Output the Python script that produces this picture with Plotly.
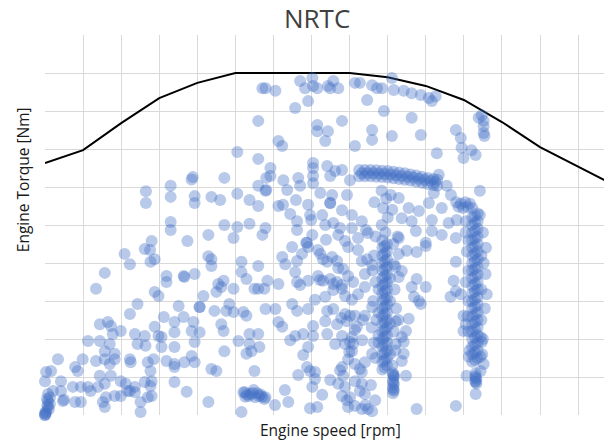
import plotly.graph_objects as go

# Full-load torque curve
curve_speed = [800, 900, 1000, 1100, 1200, 1300, 1400, 1500, 1600,
               1700, 1800, 1900, 2000, 2100, 2200, 2300]
curve_torque = [663, 697, 768, 834, 874, 900, 900, 900, 900,
                889, 866, 829, 771, 705, 653, 602]

# NRTC operating points (speed rpm, torque Nm)
points_low = [
    (957, 374), (934, 332), (1009, 424), (1023, 397), (1062, 437), (1043, 292), (1023, 266),
    (965, 245), (973, 234), (944, 239), (978, 213), (999, 221), (1036, 213), (1062, 208),
    (913, 195), (944, 195), (970, 187), (1043, 187), (1064, 182), (957, 168), (983, 161),
    (957, 147), (934, 142), (970, 134), (983, 147), (1023, 147), (1025, 139), (834, 147),
    (899, 147), (879, 126), (886, 116), (816, 116), (803, 113), (800, 89), (842, 89),
    (894, 74), (913, 74), (920, 63), (939, 74), (957, 82), (973, 103), (944, 103),
    (999, 89), (1012, 82), (1036, 74), (1062, 87), (1077, 116), (1070, 139), (1023, 63),
    (873, 74), (842, 63), (847, 37), (850, 40), (879, 34), (894, 34), (952, 34), (960, 47),
    (983, 50), (957, 21), (999, 50), (1017, 63), (1036, 60), (1051, 34), (1051, 8),
    (1070, 47), (1077, 76), (1077, 403),
]

idle_low = [
    (808, 55), (813, 47), (808, 37), (813, 29), (808, 21), (803, 10), (800, 0), (800, 0),
    (802, 3), (805, 42), (810, 15), (795, 74), (821, 63), (790, 37), (800, 5), (806, 26),
]

points_mid = [
    (1065, 589), (1065, 558), (1076, 434),
    (1371, 860), (1360, 774), (1305, 692), (1360, 674), (1185, 620), (1188, 626),
    (1271, 624), (1381, 624), (1130, 603), (1130, 574), (1193, 576), (1193, 558),
    (1237, 574), (1260, 566), (1305, 582), (1337, 566), (1360, 550), (1360, 603),
    (1381, 592), (1130, 508), (1130, 487), (1229, 474), (1271, 500), (1305, 495),
    (1337, 503), (1295, 466), (1371, 474), (1174, 458), (1080, 458),
    (1229, 418), (1237, 410), (1237, 392), (1316, 403), (1360, 392), (1088, 410),
    (1119, 366), (1119, 350), (1164, 366), (1166, 363), (1193, 371), (1255, 345),
    (1263, 337), (1269, 353), (1250, 324), (1295, 332), (1316, 376), (1329, 358),
    (1350, 332), (1360, 332), (1376, 332), (1088, 324), (1098, 313), (1216, 313),
    (1151, 287), (1206, 284), (1206, 284), (1245, 274), (1276, 274), (1284, 292),
    (1295, 271), (1321, 271), (1329, 261), (1112, 258), (1140, 245), (1164, 258),
    (1190, 245), (1263, 239), (1269, 221), (1185, 221), (1206, 218), (1140, 218),
    (1088, 232), (1098, 208), (1106, 205), (1193, 192), (1308, 195), (1337, 213),
    (1360, 213), (1337, 187), (1342, 168), (1363, 179), (1106, 179), (1140, 179),
    (1271, 168), (1329, 161), (1085, 147), (1119, 142), (1140, 134), (1140, 126),
    (1166, 139), (1185, 155), (1193, 139), (1237, 121), (1250, 116), (1350, 116),
    (1080, 89), (1140, 87), (1172, 61), (1080, 50), (1229, 34), (1316, 8),
]

idle_mid = [
    (1325, 60), (1335, 50), (1345, 58), (1352, 47), (1362, 50), (1370, 48),
    (1348, 66), (1326, 48), (1340, 55), (1358, 57), (1376, 42), (1321, 60),
    (1330, 54), (1366, 54),
]

points_high = [
    (1470, 879), (1502, 887), (1504, 866), (1483, 860), (1515, 860), (1543, 866),
    (1557, 879), (1549, 860), (1570, 860), (1614, 874), (1627, 874), (1659, 868),
    (1672, 860), (1405, 853), (1379, 860), (1491, 826), (1646, 829), (1457, 808),
    (1580, 774), (1515, 763), (1515, 747), (1543, 747), (1536, 721), (1659, 750),
    (1659, 724), (1413, 721), (1423, 708), (1614, 708),
    (1504, 663), (1504, 650), (1541, 655), (1562, 642), (1580, 645), (1601, 618),
    (1549, 629), (1392, 650), (1392, 629), (1426, 618), (1465, 624), (1504, 629),
    (1504, 610), (1379, 590), (1436, 592), (1470, 603), (1523, 584), (1549, 558),
    (1549, 558), (1554, 579), (1580, 539), (1593, 579), (1528, 526), (1491, 553),
    (1496, 526), (1413, 550), (1462, 510), (1557, 505), (1502, 474), (1570, 474),
    (1606, 492), (1632, 510), (1536, 500), (1379, 492), (1488, 453), (1588, 458),
    (1622, 466), (1648, 479),
    (1685, 860), (1716, 855), (1742, 853), (1763, 847), (1787, 842), (1808, 834),
    (1816, 826), (1826, 839), (1711, 887), (1690, 800), (1763, 782), (1711, 734),
    (1787, 737), (1879, 750), (1892, 729), (1829, 689), (1894, 703), (1920, 697),
    (1931, 684), (1899, 676), (1947, 789), (1952, 774), (1952, 760), (1952, 742),
    (1954, 734), (1939, 782),
    (1834, 632), (1855, 603), (1821, 584), (1866, 579), (1942, 590), (1942, 526),
    (1842, 545), (1816, 513), (1860, 505), (1881, 513), (1808, 558), (1782, 537),
    (1755, 545), (1763, 510), (1729, 571), (1708, 579), (1774, 484), (1816, 484),
    (1842, 474), (1879, 466), (1800, 453), (1729, 466), (1737, 518),
    (1449, 442), (1423, 416), (1431, 397), (1462, 405), (1475, 424), (1491, 442),
    (1523, 424), (1530, 410), (1554, 416), (1567, 405), (1596, 442), (1632, 405),
    (1646, 410), (1384, 353), (1413, 345), (1457, 376), (1462, 350), (1491, 353),
    (1517, 366), (1530, 353), (1549, 358), (1557, 345), (1567, 350), (1583, 384),
    (1596, 366), (1609, 350), (1640, 371), (1640, 337), (1536, 311), (1580, 332),
    (1588, 313), (1622, 318), (1379, 279), (1405, 279), (1449, 292), (1462, 274),
    (1491, 279), (1536, 247), (1557, 279), (1567, 239), (1588, 266), (1601, 261),
    (1614, 261), (1593, 247), (1619, 232), (1640, 261), (1659, 284), (1413, 245),
    (1423, 232), (1457, 208), (1478, 213), (1504, 234), (1504, 208), (1491, 179),
    (1541, 213), (1580, 208), (1606, 205), (1601, 192), (1609, 187), (1606, 168),
    (1588, 187), (1562, 187), (1659, 161), (1596, 147), (1614, 134), (1627, 121),
    (1632, 113), (1640, 139), (1488, 126), (1496, 116), (1509, 113), (1509, 95),
    (1502, 74), (1580, 126), (1583, 103), (1570, 82), (1588, 74), (1614, 89),
    (1632, 82), (1627, 63), (1640, 55), (1580, 50), (1601, 47), (1614, 24),
    (1596, 21), (1632, 16), (1648, 16), (1659, 10), (1515, 21), (1439, 34), (1379, 47),
    (1729, 424), (1750, 432), (1776, 429), (1800, 445), (1716, 397), (1737, 379),
    (1729, 363), (1776, 358), (1763, 337), (1800, 337), (1769, 311), (1782, 300),
    (1787, 292), (1879, 403), (1873, 353), (1879, 326), (1892, 318), (1865, 311),
    (1957, 371), (1960, 318), (1899, 261), (1905, 239), (1899, 221), (1755, 253),
    (1748, 221), (1737, 205), (1742, 192), (1721, 247), (1721, 187), (1742, 161),
    (1737, 142), (1748, 103), (1716, 103), (1944, 153), (1952, 134), (1913, 153),
    (1907, 103), (1944, 116), (1931, 55), (1776, 16), (1879, 24), (1944, 205), (1947, 192),
    (1425, 553), (1444, 529), (1462, 487), (1486, 453), (1517, 434), (1541, 403),
    (1570, 387), (1470, 342), (1509, 303), (1541, 274), (1578, 255), (1614, 224),
    (1633, 197), (1599, 166), (1575, 118), (1549, 92), (1528, 53), (1593, 39),
    (1641, 26), (1667, 39), (1656, 79), (1635, 250), (1606, 303), (1580, 342),
    (1557, 329), (1522, 355), (1444, 197), (1478, 158), (1465, 105), (1430, 66),
    (1404, 26), (1496, 18), (1622, 434), (1659, 395), (1643, 487), (1606, 526),
    (1575, 492), (1538, 461), (1499, 513), (1459, 566),
]

# Steady high-load band just under rated torque
band = [
    (1625, 645), (1640, 645), (1655, 645), (1670, 644), (1685, 643), (1700, 642),
    (1715, 640), (1730, 638), (1745, 636), (1760, 633), (1775, 630), (1790, 627),
    (1805, 624), (1820, 621), (1830, 619),
    (1632, 636), (1647, 636), (1662, 636), (1677, 635), (1692, 634), (1707, 633),
    (1722, 631), (1737, 629), (1752, 627), (1767, 625), (1782, 622), (1797, 619),
    (1812, 616), (1825, 613),
    (1625, 628), (1640, 628), (1655, 628), (1670, 627), (1685, 626), (1700, 625),
    (1715, 623), (1730, 621), (1745, 619), (1760, 617), (1775, 614), (1790, 611),
    (1805, 608), (1820, 605), (1830, 603),
]

# Constant-speed column around 1690 rpm
column_1690 = [
    (1686, 120), (1698, 130), (1686, 140), (1698, 150), (1686, 160), (1698, 170),
    (1686, 180), (1698, 190), (1686, 200), (1698, 210), (1686, 220), (1698, 230),
    (1686, 240), (1698, 250), (1686, 260), (1698, 270), (1686, 280), (1698, 290),
    (1686, 300), (1698, 310), (1686, 320), (1698, 330), (1686, 340), (1698, 350),
    (1686, 360), (1698, 370), (1686, 380), (1698, 390), (1686, 400), (1698, 410),
    (1686, 420), (1698, 430), (1686, 440), (1698, 450), (1686, 460), (1694, 480),
    (1684, 500), (1700, 520), (1688, 545), (1696, 570), (1684, 590),
    (1692, 125), (1692, 145), (1692, 165), (1692, 185), (1692, 205), (1692, 225),
    (1692, 245), (1692, 265), (1692, 285), (1692, 305), (1692, 325), (1692, 345),
    (1692, 365), (1692, 385), (1692, 405), (1692, 425), (1692, 445),
    (1676, 210), (1706, 240), (1676, 270), (1706, 300), (1676, 330), (1706, 360),
    (1676, 190), (1706, 160),
    (1665, 560), (1712, 540), (1668, 470), (1715, 450), (1664, 420), (1720, 390),
    (1668, 350), (1718, 330), (1662, 300), (1722, 280), (1670, 250), (1716, 220),
    (1664, 190), (1720, 170), (1668, 150), (1712, 130), (1726, 470), (1660, 380),
    (1728, 250), (1658, 230),
    (1714, 110), (1716, 100), (1714, 90), (1716, 80), (1714, 72), (1716, 64), (1714, 57),
    (1715, 105), (1715, 85), (1715, 68),
]

# Constant-speed column around 1930 rpm
column_1930 = [
    (1922, 140), (1936, 150), (1922, 160), (1936, 170), (1922, 180), (1936, 190),
    (1922, 200), (1936, 210), (1922, 220), (1936, 230), (1922, 240), (1936, 250),
    (1922, 260), (1936, 270), (1922, 280), (1936, 290), (1922, 300), (1936, 310),
    (1922, 320), (1936, 330), (1922, 340), (1936, 350), (1922, 360), (1936, 370),
    (1922, 380), (1936, 390), (1922, 400), (1936, 410), (1922, 420), (1936, 430),
    (1922, 440), (1936, 450), (1922, 460), (1936, 470), (1922, 480), (1936, 490),
    (1922, 500), (1936, 510), (1922, 520), (1936, 530), (1922, 545),
    (1929, 145), (1929, 165), (1929, 185), (1929, 205), (1929, 225), (1929, 245),
    (1929, 265), (1929, 285), (1929, 305), (1929, 325), (1929, 345), (1929, 365),
    (1929, 385), (1929, 405), (1929, 425), (1929, 445), (1929, 465), (1929, 485),
    (1929, 505), (1929, 525),
    (1912, 300), (1946, 330), (1912, 380), (1946, 420), (1912, 460), (1946, 250),
    (1912, 220),
    (1905, 510), (1950, 480), (1908, 430), (1952, 400), (1905, 350), (1955, 280),
    (1910, 260), (1950, 200), (1915, 170), (1948, 160), (1905, 480), (1958, 440),
    (1930, 102), (1933, 95), (1930, 89), (1933, 83), (1931, 110), (1931, 98), (1931, 87),
    (1880, 560), (1892, 556), (1904, 560), (1916, 556), (1886, 548), (1898, 545), (1910, 548),
]

groups = [points_low, idle_low, points_mid, idle_mid, points_high, band, column_1690, column_1930]
all_points = [p for g in groups for p in g]
speed = [p[0] for p in all_points]
torque = [p[1] for p in all_points]

fig = go.Figure()

fig.add_trace(go.Scatter(
    x=curve_speed, y=curve_torque, mode="lines",
    line=dict(color="#000000", width=2),
    hoverinfo="skip", showlegend=False,
))

fig.add_trace(go.Scatter(
    x=speed, y=torque, mode="markers",
    marker=dict(size=12, color="rgba(68,114,196,0.38)", line=dict(width=0)),
    cliponaxis=False, showlegend=False,
))

fig.update_xaxes(
    range=[800, 2268], tick0=800, dtick=100,
    showgrid=True, gridcolor="#d9d9d9", gridwidth=1,
    showticklabels=False, ticks="", zeroline=False, showline=False,
)
fig.update_yaxes(
    range=[0, 1000], tick0=0, dtick=100,
    showgrid=True, gridcolor="#d9d9d9", gridwidth=1,
    showticklabels=False, ticks="", zeroline=False, showline=False,
)

font_family = "Open Sans"
fig.update_layout(
    width=604, height=444,
    margin=dict(l=45, r=0, t=35, b=29),
    plot_bgcolor="white", paper_bgcolor="white",
    annotations=[
        dict(text="NRTC", xref="paper", yref="paper", x=0.487, y=1.0, yshift=17,
             xanchor="center", yanchor="middle", showarrow=False,
             font=dict(family=font_family, size=26, color="#404040")),
        dict(text="Engine speed [rpm]", xref="paper", yref="paper", x=0.51, y=0.0, yshift=-15,
             xanchor="center", yanchor="middle", showarrow=False,
             font=dict(family=font_family, size=15.5, color="#1a1a1a")),
        dict(text="Engine Torque [Nm]", xref="paper", yref="paper", x=0.0, xshift=-22, y=0.618,
             xanchor="center", yanchor="middle", textangle=-90, showarrow=False,
             font=dict(family=font_family, size=15.5, color="#1a1a1a")),
    ],
)

fig.write_html("out.html")
